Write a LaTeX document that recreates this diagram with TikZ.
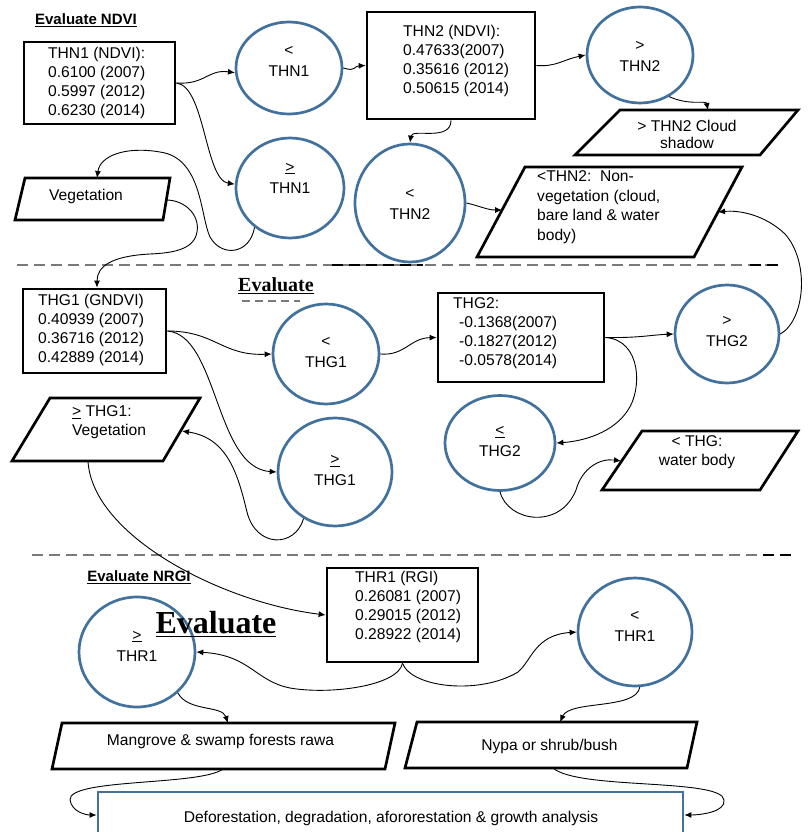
\documentclass[tikz,border=0pt]{standalone}
\usepackage{fontspec}
\setmainfont{Liberation Sans}
\newfontfamily\serifbold{Liberation Serif}
\usetikzlibrary{shapes.geometric,arrows.meta}
\definecolor{circblue}{HTML}{41719C}
\definecolor{dashgray}{HTML}{7A7A7A}
\begin{document}
\begin{tikzpicture}[x=1pt,y=-1pt,
  txt/.style={font=\fontsize{15.6}{19}\selectfont, align=left, inner sep=0pt},
  ctxt/.style={font=\fontsize{15.6}{21}\selectfont, align=center, inner sep=0pt},
  circ/.style={ellipse, draw=circblue, line width=2.7pt, inner sep=0pt},
  databox/.style={draw=black, line width=2.7pt, inner sep=0pt},
  para/.style={draw=black, line width=2.7pt, line join=miter},
  conn/.style={draw=black, line width=0.9pt, -{Latex[length=7pt,width=6pt]}},
  sepline/.style={draw=dashgray, line width=1.8pt, dash pattern=on 11pt off 6pt},
  ttl/.style={font=\fontsize{15}{18}\selectfont\bfseries, inner sep=0pt},
]
\clip (0,0) rectangle (807,832);
\fill[white] (0,0) rectangle (807,832);

% ---------- separators ----------
\draw[sepline] (17,265) -- (778,265);
\draw[sepline, draw=black] (332,265) -- (423,265);
\draw[sepline, draw=black] (750,265) -- (778,265);
\draw[sepline] (32,555) -- (793,555);
\draw[sepline, draw=black] (763,555) -- (793,555);
\draw[sepline, line width=1.4pt, dash pattern=on 8pt off 5pt] (242,301) -- (300,301);

% ---------- titles ----------
\node[ttl] (t1) at (86,20) {\underline{Evaluate NDVI}};
\node[ttl] (t3) at (139,577) {\underline{Evaluate NRGI}};
\node[inner sep=0pt, font=\serifbold\bfseries\fontsize{20}{22}\selectfont] (t2) at (276,286) {\underline{Evaluate}};

% ---------- section 1 ----------
\node[databox, minimum width=151pt, minimum height=82pt] (bthn1) at (99.5,83) {};
\node[txt, anchor=west] (bthn1t) at (48,83) {THN1 (NDVI):\\0.6100 (2007)\\0.5997 (2012)\\0.6230 (2014)};

\node[databox, minimum width=168pt, minimum height=107pt] (bthn2) at (451,65.5) {};
\node[txt, anchor=west] (bthn2t) at (403,61) {THN2 (NDVI):\\0.47633(2007)\\0.35616 (2012)\\0.50615 (2014)};

\node[circ, minimum width=106pt, minimum height=92pt] (cltthn1) at (289,68) {};
\node[ctxt] (cltthn1t) at (289,61) {<\\THN1};
\node[circ, minimum width=108pt, minimum height=100pt] (cgethn1) at (290,188) {};
\node[ctxt] (cgethn1t) at (290,178) {\underline{>}\\THN1};
\node[circ, minimum width=106pt, minimum height=96pt] (cgtthn2) at (640,55) {};
\node[ctxt] (cgtthn2t) at (640,56) {>\\THN2};
\node[circ, minimum width=110pt, minimum height=118pt] (cltthn2) at (410,203) {};
\node[ctxt] (cltthn2t) at (410,204) {<\\THN2};

\draw[para] (25,178) -- (170,178) -- (163,220) -- (15,220) -- cycle;
\node[txt] (pveg) at (86,196) {Vegetation};
\coordinate (vegTop) at (97,178);
\coordinate (vegR) at (166,200);

\draw[para] (620,110) -- (798,110) -- (760,155) -- (575,155) -- cycle;
\node[txt, align=center, font=\fontsize{15.6}{17}\selectfont] (pcloud) at (687,134) {> THN2 Cloud\\shadow};
\coordinate (cloudTop) at (708,110);

\draw[para] (525,167) -- (742,167) -- (694,257) -- (477,257) -- cycle;
\node[txt, anchor=west, font=\fontsize{15.6}{19.5}\selectfont] (pnonveg) at (537,207) {<THN2:\ \ Non-\\vegetation (cloud,\\bare land \& water\\body)};
\coordinate (nvL) at (502,210);
\coordinate (nvR) at (718,212);

% ---------- section 2 ----------
\node[databox, minimum width=143pt, minimum height=84pt] (bthg1) at (94.5,331) {};
\node[txt, anchor=west] (bthg1t) at (38,330) {THG1 (GNDVI)\\0.40939 (2007)\\0.36716 (2012)\\0.42889 (2014)};

\node[databox, minimum width=166pt, minimum height=89pt] (bthg2) at (521,337.5) {};
\node[txt, anchor=west] (bthg2t) at (453,333.5) {THG2:\\\hspace*{6pt}-0.1368(2007)\\\hspace*{6pt}-0.1827(2012)\\\hspace*{6pt}-0.0578(2014)};

\node[circ, minimum width=106pt, minimum height=100pt] (cltthg1) at (326,354) {};
\node[ctxt] (cltthg1t) at (326,353) {<\\THG1};
\node[circ, minimum width=104pt, minimum height=98pt] (cgtthg2) at (727,334) {};
\node[ctxt] (cgtthg2t) at (727,332) {>\\THG2};
\node[circ, minimum width=110pt, minimum height=95pt] (clethg2) at (500,443) {};
\node[ctxt] (clethg2t) at (500,442) {\underline{<}\\THG2};
\node[circ, minimum width=114pt, minimum height=108pt] (cgethg1) at (335,472) {};
\node[ctxt] (cgethg1t) at (335,471) {\underline{>}\\THG1};

\draw[para] (50,398) -- (200,398) -- (163,461) -- (12,461) -- cycle;
\node[txt, anchor=west] (pvegg) at (72,422.5) {\underline{>} THG1:\\Vegetation};
\coordinate (vgR) at (182,431);
\coordinate (vgB) at (88,461);

\draw[para] (642,431) -- (798,431) -- (760,490) -- (602,490) -- cycle;
\node[txt, align=center] (pwater) at (697,452.5) {< THG:\\water body};
\coordinate (wL) at (621,461);

% ---------- section 3 ----------
\node[databox, minimum width=151pt, minimum height=94pt] (bthr1) at (402.5,615) {};
\node[txt, anchor=west] (bthr1t) at (355,607) {THR1 (RGI)\\0.26081 (2007)\\0.29015 (2012)\\0.28922 (2014)};

\node[circ, minimum width=116pt, minimum height=110pt] (cgethr1) at (137,652) {};
\node[ctxt] (cgethr1t) at (137,646) {\underline{>}\\THR1};
\node[circ, minimum width=114pt, minimum height=108pt] (cltthr1) at (635,632) {};
\node[ctxt] (cltthr1t) at (635,626) {<\\THR1};

\draw[para] (62,723) -- (395,723) -- (385,769) -- (52,769) -- cycle;
\node[txt] (pmang) at (220.5,741) {Mangrove \& swamp forests rawa};
\coordinate (mangTop) at (228,723);
\coordinate (mangBot) at (223,769);

\draw[para] (417,722) -- (697,722) -- (687,768) -- (405,768) -- cycle;
\node[txt] (pnypa) at (549.5,746) {Nypa or shrub/bush};
\coordinate (nypaTop) at (560,722);
\coordinate (nypaBot) at (553,768);

\node[draw=circblue, line width=2.7pt, minimum width=585pt, minimum height=60pt, inner sep=0pt] (fin) at (390.5,822) {};
\node[txt] (fint) at (391,818) {Deforestation, degradation, afororestation \& growth analysis};

\node[inner sep=0pt, font=\serifbold\bfseries\fontsize{32}{34}\selectfont] (t4) at (216,624) {\underline{Evaluate}};

% ---------- connectors ----------
\draw[conn] (bthn1.east) .. controls (205,85) and (208,69) .. (cltthn1.185);
\draw[conn] (bthn1.east) .. controls (205,86) and (205,180) .. (cgethn1.176);
\draw[conn] (cltthn1.east) .. controls (356,72) and (354,66) .. (bthn2.west);
\draw[conn] (bthn2.south) .. controls (451,142) and (412,128) .. (cltthn2.north);
\draw[conn] (bthn2.east) .. controls (556,67) and (562,60) .. (cgtthn2.west);
\draw[conn] (cgtthn2.-55) .. controls (690,106) and (706,100) .. (cloudTop);
\draw[conn] (cltthn2.east) .. controls (480,206) and (487,210) .. (nvL);
\draw[conn] (cgethn1.228) .. controls (250,254) and (222,258) .. (210,237)
   .. controls (200,215) and (202,158) .. (160,152)
   .. controls (125,146) and (100,156) .. (vegTop);
\draw[conn] (vegR) .. controls (185,200) and (200,215) .. (197,232)
   .. controls (194,250) and (172,253) .. (150,254)
   .. controls (112,256) and (97,266) .. ([xshift=2.5pt]bthg1.north);
\draw[conn] (cgtthg2.east) .. controls (805,320) and (810,262) .. (785,234)
   .. controls (765,215) and (740,210) .. (nvR);

\draw[conn] (bthg1.east) .. controls (215,331) and (222,356) .. (cltthg1.west);
\draw[conn] (bthg1.east) .. controls (218,335) and (215,468) .. (cgethg1.west);
\draw[conn] (cgethg1.236) .. controls (295,548) and (256,548) .. (247,512)
   .. controls (238,475) and (228,438) .. (vgR);
\draw[conn] (vgB) .. controls (92,535) and (220,602) .. (bthr1.west);
\draw[conn] (cltthg1.east) .. controls (405,356) and (410,338) .. (bthg2.west);
\draw[conn] (bthg2.east) .. controls (640,338) and (650,335) .. (cgtthg2.west);
\draw[conn] (bthg2.east) .. controls (642,340) and (642,390) .. (628,410)
   .. controls (614,432) and (585,441) .. (clethg2.east);
\draw[conn] (clethg2.south) .. controls (508,522) and (560,530) .. (576,490)
   .. controls (582,468) and (600,458) .. (wL);

\draw[conn] (bthr1.south) .. controls (398,686) and (330,695) .. (290,688)
   .. controls (255,681) and (250,655) .. (cgethr1.east);
\draw[conn] (bthr1.south) .. controls (412,688) and (480,695) .. (518,672)
   .. controls (532,660) and (535,635) .. (cltthr1.west);
\draw[conn] (cgethr1.-45) .. controls (188,712) and (222,705) .. (mangTop);
\draw[conn] (cltthr1.-85) .. controls (636,710) and (570,700) .. (nypaTop);
\draw[conn] (mangBot) .. controls (200,786) and (68,778) .. (70,800)
   .. controls (72,812) and (86,815) .. ([yshift=7pt]fin.west);
\draw[conn] (nypaBot) .. controls (578,790) and (722,778) .. (724,800)
   .. controls (726,812) and (700,815) .. ([yshift=7pt]fin.east);
\end{tikzpicture}
\end{document}
